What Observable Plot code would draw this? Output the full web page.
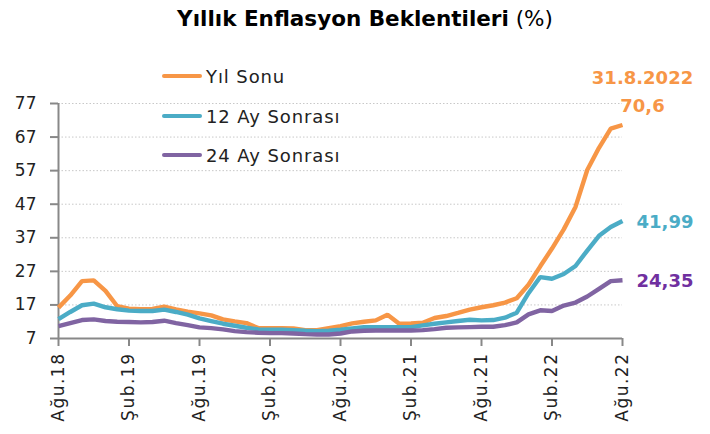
<!DOCTYPE html>
<html>
<head>
<meta charset="utf-8">
<script src="https://cdn.jsdelivr.net/npm/d3@7"></script>
<script src="https://cdn.jsdelivr.net/npm/@observablehq/plot@0.6"></script>
<style>
  body { margin: 0; background: #fff; width: 710px; height: 434px; overflow: hidden; position: relative; font-family: "DejaVu Sans", sans-serif; }
  #title { height: 38px; line-height: 38px; text-align: center; font-size: 21.5px; color: #000; padding-left: 20px; box-sizing: border-box; width: 710px; margin-bottom: 2px; }
  #title b { font-weight: bold; }
  #title span { font-weight: normal; }
  #legend { position: absolute; left: 0; top: 0; }
  .lg { position: absolute; left: 162px; height: 22px; display: flex; align-items: center; font-size: 18px; letter-spacing: 0.9px; color: #222; white-space: nowrap; }
  .sw { width: 40px; height: 4px; border-radius: 2px; margin-right: 4px; }
  .xt text { letter-spacing: 1.5px; }
</style>
</head>
<body>
<div id="title"><b>Yıllık Enflasyon Beklentileri</b> <span>(%)</span></div>
<div id="chart"></div>
<div id="legend"></div>
<script>
// Tick labels (every 6 months, Ağu.18 .. Ağu.22)
const tickLabels = ["Ağu.18","Şub.19","Ağu.19","Şub.20","Ağu.20","Şub.21","Ağu.21","Şub.22","Ağu.22"];
const yTicks = [7,17,27,37,47,57,67,77];
const seriesNames = ["Yıl Sonu","12 Ay Sonrası","24 Ay Sonrası"];
const seriesColors = ["#F79646","#4BACC6","#8064A2"];
const labelColors = ["#F79646","#4BACC6","#7030A0"];
const lastLabels = ["70,6","41,99","24,35"];
const dateLabel = "31.8.2022";

// Monthly values, Aug 2018 .. Aug 2022 (49 months)
const yilSonu = [16.2,19.8,24.1,24.3,21.2,16.6,15.9,15.7,15.8,16.5,15.7,15.0,14.5,13.9,12.7,12.1,11.6,10.1,10.1,10.1,10.0,9.5,9.5,10.1,10.7,11.5,12.0,12.4,14.1,11.4,11.5,11.7,13.1,13.7,14.6,15.6,16.3,16.9,17.7,19.0,23.0,28.5,33.8,39.5,46.2,57.2,63.8,69.5,70.6];
const ay12 = [12.8,14.9,16.9,17.4,16.3,15.7,15.3,15.2,15.2,15.6,14.9,14.1,13.0,12.2,11.4,10.8,10.2,9.7,9.6,9.6,9.5,9.3,9.2,9.3,9.6,10.0,10.4,10.4,10.4,10.4,10.4,10.9,11.4,11.8,12.2,12.6,12.4,12.5,13.2,14.7,20.5,25.3,24.8,26.2,28.6,33.2,37.6,40.2,41.99];
const ay24 = [10.7,11.6,12.5,12.7,12.2,12.0,11.9,11.8,11.9,12.3,11.6,11.0,10.3,10.1,9.7,9.2,8.9,8.7,8.6,8.6,8.5,8.3,8.2,8.2,8.5,9.1,9.3,9.4,9.4,9.4,9.4,9.5,9.8,10.2,10.3,10.4,10.5,10.5,11.0,11.8,14.2,15.4,15.2,16.8,17.7,19.5,21.8,24.1,24.35];

const allSeries = [yilSonu, ay12, ay24];
const rows = allSeries.flatMap((vals, s) => vals.map((v, i) => ({i, v, s: seriesNames[s]})));
const lastRows = allSeries.map((vals, s) => ({i: vals.length - 1, v: vals[vals.length - 1], s, label: lastLabels[s]}));

const font = "DejaVu Sans, sans-serif";
const axisColor = "#888888";

const plot = Plot.plot({
  width: 710,
  height: 394,
  marginTop: 63,
  marginBottom: 96,
  marginLeft: 58,
  marginRight: 88,
  style: {fontFamily: font, fontSize: "15px", color: "#222", background: "transparent", overflow: "visible"},
  x: {domain: [0, 48], label: null},
  y: {domain: [7, 77], label: null},
  color: {domain: seriesNames, range: seriesColors},
  marks: [
    Plot.gridY(yTicks, {stroke: "#c8c8c8", strokeOpacity: 1, strokeDasharray: "1.5,2", strokeWidth: 1}),
    Plot.axisY(yTicks, {tickSize: 8, tickPadding: 14, stroke: axisColor, strokeWidth: 2, fontSize: 17, fill: "#222"}),
    Plot.axisX(d3.range(0, 49, 6), {className: "xt", tickSize: 8, tickPadding: 6, tickRotate: -90, tickFormat: i => tickLabels[i / 6], stroke: axisColor, strokeWidth: 2, fontSize: 17, fill: "#222"}),
    Plot.ruleX([0], {stroke: axisColor, strokeWidth: 2}),
    Plot.ruleY([7], {stroke: axisColor, strokeWidth: 2}),
    Plot.line(rows, {x: "i", y: "v", z: "s", stroke: "s", strokeWidth: 4.4, strokeLinejoin: "miter", strokeLinecap: "butt"}),
    Plot.text([lastRows[0]], {x: "i", y: "v", text: "label", dx: 20, dy: -19, textAnchor: "middle", fill: labelColors[0], fontWeight: "bold", fontSize: 18}),
    Plot.text([lastRows[0]], {x: "i", y: "v", text: () => dateLabel, dx: 20, dy: -47, textAnchor: "middle", fill: labelColors[0], fontWeight: "bold", fontSize: 18}),
    Plot.text(lastRows.slice(1), {x: "i", y: "v", text: "label", dx: 14, dy: 1, textAnchor: "start", fill: d => labelColors[d.s], fontWeight: "bold", fontSize: 18})
  ]
});
document.getElementById("chart").appendChild(plot);

// Legend (HTML overlay inside plot area)
const legendTops = [65, 105, 144];
const lg = document.getElementById("legend");
seriesNames.forEach((name, k) => {
  const d = document.createElement("div");
  d.className = "lg";
  d.style.top = legendTops[k] + "px";
  const sw = document.createElement("div");
  sw.className = "sw";
  sw.style.background = seriesColors[k];
  d.appendChild(sw);
  d.appendChild(document.createTextNode(name));
  lg.appendChild(d);
});
</script>
</body>
</html>
